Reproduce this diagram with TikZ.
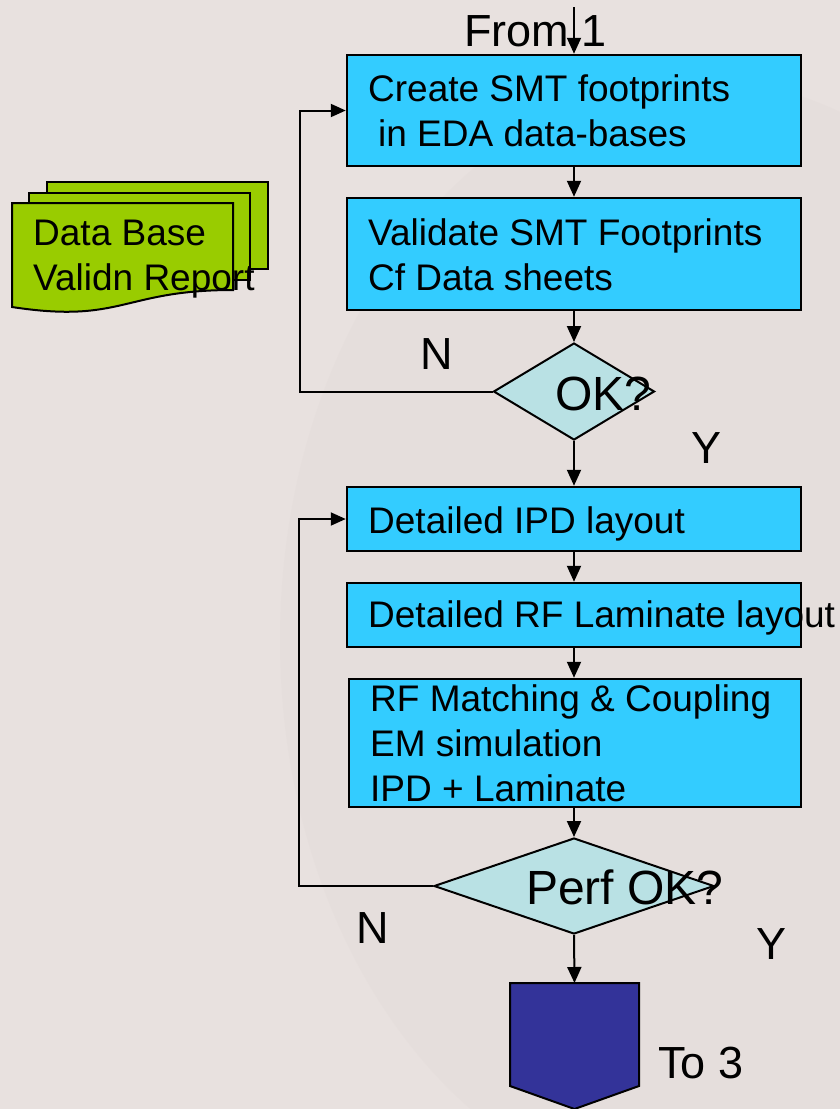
\documentclass[tikz,border=0pt]{standalone}
\usepackage{fontspec}
\setmainfont{Liberation Sans}
\usetikzlibrary{arrows.meta,shapes.geometric}
\definecolor{bgc}{HTML}{E8E1DF}
\definecolor{bgshade}{HTML}{E2DAD8}
\definecolor{procfill}{HTML}{33CCFF}
\definecolor{decfill}{HTML}{B9E1E4}
\definecolor{docfill}{HTML}{99CC00}
\definecolor{offfill}{HTML}{333399}

\begin{document}
\begin{tikzpicture}[x=1pt,y=-1pt,
  proc/.style={rectangle, draw=black, line width=2.5pt, fill=procfill, inner sep=0pt},
  dec/.style={diamond, draw=black, line width=2pt, fill=decfill, inner sep=0pt},
  sheet/.style={draw=black, line width=2pt, fill=docfill},
  boxtxt/.style={anchor=base west, inner sep=0pt, font=\fontsize{37pt}{45pt}\selectfont},
  dectxt/.style={anchor=base west, inner sep=0pt, font=\fontsize{48pt}{56pt}\selectfont},
  lbl/.style={anchor=base west, inner sep=0pt, font=\fontsize{45pt}{54pt}\selectfont},
  arr/.style={line width=2pt, -{Triangle[length=16pt,width=14pt]}},
  loopline/.style={line width=2pt, -{Triangle[length=15pt,width=13pt]}}
]
% page and background
\useasboundingbox (0,0) rectangle (840,1109);
\fill[bgc] (0,0) rectangle (840,1109);
\fill[bgshade, opacity=0.35] (700,640) ellipse [x radius=420, y radius=560];

% stacked documents
\filldraw[sheet] (47,182) rectangle (268,269);
\filldraw[sheet] (29,193) rectangle (250,280);
\filldraw[sheet] (12,203) -- (233,203) -- (233,290)
  .. controls (122.5,290) and (122.5,324) .. (12,307) -- cycle;
\node[boxtxt] (docA) at (33,245) {Data Base};
\node[boxtxt] (docB) at (33,290) {Validn Report};

% process boxes
\node[proc, minimum width=454pt, minimum height=111pt] (b1) at (574,110.5) {};
\node[proc, minimum width=454pt, minimum height=112pt] (b2) at (574,254) {};
\node[proc, minimum width=454pt, minimum height=64pt] (b3) at (574,519) {};
\node[proc, minimum width=454pt, minimum height=64pt] (b4) at (574,615) {};
\node[proc, minimum width=452pt, minimum height=128pt] (b5) at (575,743) {};

% decisions
\node[dec, minimum width=161pt, minimum height=97pt] (d1) at (574,391.5) {};
\node[dec, minimum width=280pt, minimum height=96pt] (d2) at (574,886) {};

% off-page connector
\filldraw[draw=black, line width=2pt, fill=offfill]
  (510,983) -- (639,983) -- (639,1086) -- (574.5,1109) -- (510,1086) -- cycle;
\coordinate (off) at (574.5,983);

% box texts
\node[boxtxt] (t1a) at (368,101) {Create SMT footprints};
\node[boxtxt] (t1b) at (378,146) {in EDA data-bases};
\node[boxtxt] (t2a) at (368,245) {Validate SMT Footprints};
\node[boxtxt] (t2b) at (368,290) {Cf Data sheets};
\node[boxtxt] (t3) at (368,533) {Detailed IPD layout};
\node[boxtxt] (t4) at (368,627) {Detailed RF Laminate layout};
\node[boxtxt] (t5a) at (370,711) {RF Matching \& Coupling};
\node[boxtxt] (t5b) at (370,756) {EM simulation};
\node[boxtxt] (t5c) at (370,801) {IPD + Laminate};

% decision texts
\node[dectxt] (q1) at (555,410) {OK?};
\node[dectxt] (q2) at (526,904) {Perf OK?};

% branch labels
\node[lbl] (from) at (464,46) {From 1};
\node[lbl] (to) at (658,1078) {To 3};
\node[lbl] (n1) at (420,369) {N};
\node[lbl] (y1) at (691,463) {Y};
\node[lbl] (n2) at (356,943) {N};
\node[lbl] (y2) at (756,959) {Y};

% flow
\coordinate (entry) at (574,7);
\draw[arr] (entry) -- (b1.north);
\draw[arr] (b1) -- (b2);
\draw[arr] (b2) -- (d1);
\draw[arr] (d1) -- (b3);
\draw[arr] (b3) -- (b4);
\draw[arr] (b4.south) -- (b5.north -| b4.south);
\draw[arr] (b5.south -| d2.north) -- (d2.north);
\draw[arr] (d2.south) -- (off);

% loops back on N
\draw[loopline] (d1.west) -- (300,391.5) |- (b1.west);
\draw[loopline] (d2.west) -- (299,886) |- (b3.west);
\end{tikzpicture}
\end{document}
